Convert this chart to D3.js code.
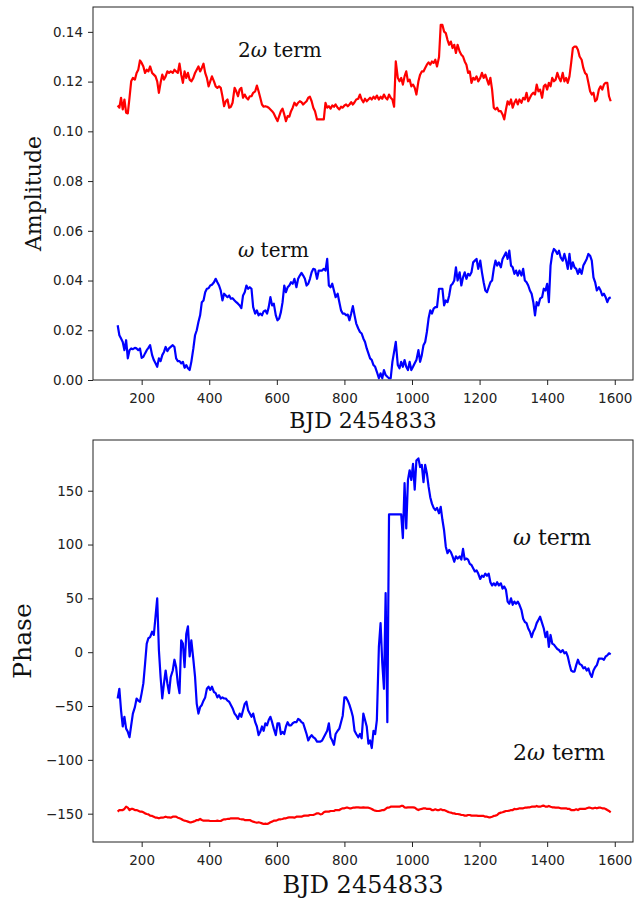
<!DOCTYPE html>
<html>
<head>
<meta charset="utf-8">
<script src="https://cdn.jsdelivr.net/npm/d3@7"></script>
<style>
  html, body { margin: 0; padding: 0; background: #fff; }
  svg { display: block; }
</style>
</head>
<body>
<svg id="chart" width="636" height="898"></svg>
<script>
// ---------------- DATA ----------------
// Observation epochs (BJD - 2454833), shared by all four series
const days = [
  129,134,139,144,149,154,159,164,169,174,
  180,185,190,195,200,205,210,215,220,225,
  231,236,241,246,251,256,261,266,271,276,
  281,286,292,297,302,307,312,317,322,327,
  332,337,342,347,353,358,363,368,373,378,
  383,388,393,398,403,408,414,419,424,429,
  434,439,444,449,454,459,464,469,475,480,
  485,490,495,500,505,510,515,520,525,530,
  536,541,546,551,556,561,566,571,576,581,
  586,591,597,602,607,612,617,622,627,632,
  637,642,647,652,658,663,668,673,678,683,
  688,693,698,703,708,713,719,724,729,734,
  739,744,749,754,759,764,769,774,780,785,
  790,795,800,805,810,815,820,825,830,835,
  841,846,851,856,861,866,871,876,881,886,
  891,896,902,907,912,917,922,927,932,937,
  942,947,952,958,963,968,973,978,983,988,
  993,998,1003,1008,1013,1019,1024,1029,1034,1039,
  1044,1049,1054,1059,1064,1069,1074,1080,1085,1090,
  1095,1100,1105,1110,1115,1120,1125,1130,1135,1141,
  1146,1151,1156,1161,1166,1171,1176,1181,1186,1191,
  1196,1202,1207,1212,1217,1222,1227,1232,1237,1242,
  1247,1252,1257,1263,1268,1273,1278,1283,1288,1293,
  1298,1303,1308,1313,1318,1324,1329,1334,1339,1344,
  1349,1354,1359,1364,1369,1374,1379,1385,1390,1395,
  1400,1405,1410,1415,1420,1425,1430,1435,1440,1446,
  1451,1456,1461,1466,1471,1476,1481,1486,1491,1496,
  1502,1507,1512,1517,1522,1527,1532,1537,1542,1547,
  1553,1558,1563,1568,1573,1578,1583,1588
];

// Amplitude of the 2ω term
const amp2w = [
  0.1104,0.1095,0.1135,0.1088,0.1128,0.1075,0.1072,0.1135,0.1201,0.1215,
  0.1208,0.1235,0.1248,0.1285,0.1275,0.1261,0.1235,0.1248,0.1241,0.1261,
  0.1235,0.1228,0.1221,0.1201,0.1155,0.1195,0.1228,0.1208,0.1221,0.1241,
  0.1235,0.1241,0.1235,0.1248,0.1241,0.1235,0.1272,0.1228,0.1195,0.1241,
  0.1215,0.1235,0.1208,0.1201,0.1215,0.1235,0.1248,0.1261,0.1241,0.1255,
  0.1272,0.1235,0.1215,0.1181,0.1201,0.1221,0.1201,0.1181,0.1175,0.1181,
  0.1175,0.1141,0.1101,0.1121,0.1128,0.1095,0.1099,0.1115,0.1175,0.1161,
  0.1141,0.1168,0.1175,0.1135,0.1148,0.1135,0.1128,0.1141,0.1141,0.1155,
  0.1161,0.1184,0.1161,0.1135,0.1108,0.1099,0.1101,0.1099,0.1095,0.1088,
  0.1081,0.1072,0.1055,0.1041,0.1061,0.1081,0.1091,0.1068,0.1041,0.1061,
  0.1059,0.1081,0.1095,0.1115,0.1104,0.1115,0.1121,0.1117,0.1108,0.1115,
  0.1121,0.1135,0.1139,0.1121,0.1095,0.1081,0.1048,0.1048,0.1048,0.1048,
  0.1048,0.1115,0.1095,0.1101,0.1091,0.1104,0.1099,0.1108,0.1095,0.1088,
  0.1099,0.1095,0.1104,0.1108,0.1101,0.1108,0.1117,0.1108,0.1117,0.1128,
  0.1131,0.1148,0.1128,0.1117,0.1131,0.1121,0.1128,0.1135,0.1128,0.1139,
  0.1131,0.1144,0.1128,0.1139,0.1131,0.1148,0.1135,0.1128,0.1148,0.1135,
  0.1128,0.1099,0.1281,0.1215,0.1201,0.1215,0.1188,0.1221,0.1241,0.1201,
  0.1208,0.1181,0.1188,0.1175,0.1148,0.1201,0.1228,0.1241,0.1241,0.1255,
  0.1268,0.1277,0.1268,0.1281,0.1275,0.1288,0.1261,0.1299,0.1428,0.1428,
  0.1401,0.1395,0.1368,0.1348,0.1361,0.1335,0.1348,0.1315,0.1348,0.1321,
  0.1308,0.1301,0.1281,0.1268,0.1235,0.1241,0.1195,0.1215,0.1208,0.1221,
  0.1201,0.1215,0.1235,0.1215,0.1228,0.1208,0.1188,0.1215,0.1168,0.1095,
  0.1088,0.1095,0.1081,0.1081,0.1068,0.1048,0.1088,0.1121,0.1108,0.1128,
  0.1095,0.1115,0.1128,0.1108,0.1128,0.1115,0.1135,0.1128,0.1155,0.1121,
  0.1135,0.1148,0.1155,0.1148,0.1188,0.1161,0.1168,0.1135,0.1181,0.1188,
  0.1168,0.1195,0.1181,0.1215,0.1201,0.1208,0.1235,0.1215,0.1201,0.1235,
  0.1201,0.1215,0.1195,0.1221,0.1275,0.1335,0.1341,0.1341,0.1328,0.1301,
  0.1288,0.1255,0.1235,0.1228,0.1195,0.1161,0.1148,0.1155,0.1121,0.1128,
  0.1168,0.1181,0.1168,0.1188,0.1195,0.1195,0.1141,0.1121
];

// Amplitude of the ω term
const amp1w = [
  0.0220,0.0180,0.0167,0.0153,0.0120,0.0160,0.0087,0.0120,0.0127,0.0124,
  0.0129,0.0127,0.0120,0.0127,0.0089,0.0093,0.0107,0.0120,0.0129,0.0140,
  0.0100,0.0080,0.0067,0.0053,0.0087,0.0076,0.0100,0.0113,0.0133,0.0116,
  0.0127,0.0133,0.0140,0.0133,0.0087,0.0076,0.0076,0.0067,0.0073,0.0049,
  0.0060,0.0047,0.0040,0.0073,0.0127,0.0180,0.0200,0.0233,0.0260,0.0313,
  0.0320,0.0353,0.0367,0.0369,0.0380,0.0383,0.0393,0.0407,0.0393,0.0380,
  0.0360,0.0320,0.0347,0.0340,0.0333,0.0340,0.0327,0.0329,0.0320,0.0313,
  0.0307,0.0300,0.0289,0.0340,0.0353,0.0380,0.0367,0.0373,0.0367,0.0293,
  0.0267,0.0280,0.0260,0.0267,0.0260,0.0276,0.0280,0.0267,0.0293,0.0333,
  0.0300,0.0307,0.0260,0.0240,0.0247,0.0273,0.0313,0.0380,0.0353,0.0373,
  0.0380,0.0393,0.0387,0.0407,0.0373,0.0407,0.0420,0.0431,0.0420,0.0407,
  0.0380,0.0387,0.0407,0.0433,0.0447,0.0444,0.0407,0.0440,0.0440,0.0440,
  0.0447,0.0440,0.0487,0.0380,0.0373,0.0387,0.0360,0.0333,0.0347,0.0313,
  0.0280,0.0267,0.0267,0.0260,0.0263,0.0240,0.0267,0.0297,0.0260,0.0227,
  0.0207,0.0193,0.0187,0.0167,0.0153,0.0127,0.0107,0.0087,0.0080,0.0060,
  0.0053,0.0033,0.0007,0.0027,0.0007,0.0040,0.0020,0.0013,0.0007,0.0007,
  0.0073,0.0113,0.0153,0.0060,0.0047,0.0073,0.0053,0.0080,0.0053,0.0040,
  0.0073,0.0040,0.0053,0.0067,0.0080,0.0120,0.0073,0.0100,0.0140,0.0153,
  0.0193,0.0247,0.0280,0.0267,0.0287,0.0293,0.0293,0.0367,0.0367,0.0367,
  0.0300,0.0320,0.0313,0.0340,0.0380,0.0387,0.0400,0.0453,0.0400,0.0433,
  0.0380,0.0413,0.0433,0.0407,0.0427,0.0420,0.0433,0.0473,0.0480,0.0487,
  0.0447,0.0480,0.0433,0.0393,0.0360,0.0353,0.0373,0.0393,0.0400,0.0447,
  0.0480,0.0460,0.0473,0.0453,0.0487,0.0500,0.0513,0.0487,0.0520,0.0460,
  0.0453,0.0427,0.0440,0.0420,0.0440,0.0420,0.0447,0.0400,0.0393,0.0380,
  0.0360,0.0347,0.0313,0.0260,0.0313,0.0300,0.0327,0.0333,0.0367,0.0360,
  0.0387,0.0313,0.0460,0.0507,0.0527,0.0520,0.0507,0.0520,0.0493,0.0480,
  0.0507,0.0480,0.0447,0.0507,0.0447,0.0473,0.0453,0.0447,0.0427,0.0447,
  0.0427,0.0460,0.0473,0.0487,0.0507,0.0500,0.0480,0.0413,0.0393,0.0360,
  0.0373,0.0360,0.0340,0.0347,0.0333,0.0313,0.0329,0.0333
];

// Phase of the ω term (degrees)
const phase1w = [
  -43,-34,-54,-69,-60,-71,-74,-79,-68,-57,
  -51,-43,-45,-46,-38,-29,-11,8,13,14,
  19,16,33,50,2,-23,-43,-29,-17,-29,
  -38,-23,-17,-7,-14,-29,-38,11,8,-14,
  17,24,-4,11,-7,-23,-48,-57,-51,-49,
  -45,-42,-34,-32,-35,-32,-37,-38,-42,-40,
  -43,-42,-43,-43,-45,-46,-49,-52,-57,-59,
  -62,-57,-60,-54,-48,-46,-54,-57,-60,-57,
  -65,-69,-77,-74,-69,-73,-66,-68,-63,-60,
  -65,-71,-77,-66,-66,-76,-74,-76,-69,-65,
  -68,-68,-66,-65,-65,-62,-63,-65,-66,-71,
  -76,-82,-79,-77,-79,-80,-83,-83,-83,-82,
  -79,-76,-73,-66,-79,-82,-86,-76,-73,-71,
  -65,-59,-42,-42,-45,-49,-54,-60,-73,-76,
  -79,-76,-80,-57,-63,-69,-85,-82,-89,-73,
  -76,-63,5,27,-10,-34,55,-65,128,128,
  128,128,128,128,128,128,106,157,115,160,
  169,160,175,151,178,180,172,174,158,174,
  166,154,144,138,134,132,134,129,135,123,
  113,98,92,95,93,89,84,89,87,89,
  86,96,86,87,86,82,81,78,75,76,
  73,68,71,70,73,71,73,65,62,64,
  62,65,62,64,59,61,58,47,45,50,
  44,47,45,47,44,39,31,28,27,22,
  19,14,19,22,27,30,33,27,22,14,
  19,5,16,8,7,5,3,2,0,2,
  -1,0,-4,-11,-17,-18,-18,-12,-7,-11,
  -12,-15,-14,-17,-15,-20,-23,-17,-14,-12,
  -6,-6,-6,-7,-4,-3,-1,-2
];

// Phase of the 2ω term (degrees)
const phase2w = [
  -148.1,-146.6,-146.6,-146.6,-145.6,-143.5,-144.4,-146.6,-145.6,-145.6,
  -146.6,-146.6,-147.2,-148.1,-148.1,-148.7,-149.7,-150.3,-150.6,-151.8,
  -152.1,-152.8,-153.7,-153.7,-154.3,-153.7,-153.7,-153.4,-152.8,-153.4,
  -153.4,-153.7,-152.8,-152.8,-152.8,-153.7,-154.3,-154.9,-155.9,-156.5,
  -156.8,-157.4,-158.0,-158.0,-157.4,-156.8,-155.9,-155.9,-154.9,-155.9,
  -156.5,-156.5,-156.5,-156.5,-156.8,-156.8,-156.8,-156.8,-156.5,-156.8,
  -156.8,-155.9,-155.2,-155.2,-154.9,-154.9,-154.3,-154.3,-154.3,-154.3,
  -154.3,-154.9,-155.2,-155.2,-155.9,-155.9,-155.9,-155.9,-156.8,-157.4,
  -158.0,-158.4,-158.0,-158.4,-159.0,-159.6,-159.3,-159.6,-159.0,-158.0,
  -157.4,-156.5,-156.5,-155.9,-155.2,-155.2,-154.9,-154.3,-154.3,-153.7,
  -153.4,-153.4,-153.4,-153.7,-152.8,-152.8,-152.8,-152.8,-152.1,-151.8,
  -151.8,-151.8,-151.2,-151.2,-151.2,-150.6,-149.7,-149.7,-150.6,-150.3,
  -148.7,-148.1,-148.1,-148.1,-147.5,-147.5,-147.5,-146.6,-146.6,-146.6,
  -145.6,-145.0,-145.0,-144.4,-144.4,-145.0,-145.0,-144.4,-144.4,-144.1,
  -144.1,-144.4,-144.4,-144.1,-144.4,-144.4,-144.4,-145.0,-145.6,-146.6,
  -147.2,-147.5,-147.5,-147.2,-146.6,-146.6,-145.6,-144.4,-144.4,-143.5,
  -143.5,-143.5,-143.5,-143.5,-143.5,-142.8,-142.8,-144.1,-144.4,-144.1,
  -144.1,-144.1,-144.1,-144.4,-145.6,-146.6,-145.9,-145.6,-145.0,-145.0,
  -145.6,-145.6,-145.6,-146.6,-146.6,-145.9,-146.6,-146.6,-145.9,-146.6,
  -146.6,-147.2,-148.1,-148.7,-149.0,-149.7,-149.7,-150.3,-150.3,-150.6,
  -151.2,-151.2,-151.8,-151.8,-151.2,-151.2,-151.8,-151.8,-151.8,-151.8,
  -152.1,-152.1,-152.1,-152.1,-152.8,-152.8,-153.4,-153.4,-152.8,-152.1,
  -151.8,-151.2,-149.7,-149.0,-148.7,-148.1,-147.5,-147.5,-147.2,-146.6,
  -146.6,-145.6,-145.9,-145.6,-145.0,-145.0,-145.0,-144.4,-144.4,-144.1,
  -144.1,-143.5,-143.5,-143.5,-142.8,-143.5,-143.5,-142.8,-142.5,-143.5,
  -143.5,-142.8,-143.5,-144.1,-144.1,-144.4,-144.4,-144.4,-145.0,-145.0,
  -145.0,-145.0,-145.6,-145.6,-146.6,-146.6,-146.6,-145.9,-146.6,-145.6,
  -145.6,-145.6,-145.6,-145.0,-144.4,-144.4,-145.0,-145.0,-144.4,-145.0,
  -144.4,-144.4,-145.0,-145.0,-145.6,-146.6,-147.5,-148.7
];

// Tick labels / axis settings
const xTicks = [200, 400, 600, 800, 1000, 1200, 1400, 1600];
const ampTicks = [0.00, 0.02, 0.04, 0.06, 0.08, 0.10, 0.12, 0.14];
const phaseTicks = [-150, -100, -50, 0, 50, 100, 150];
const xDomain = [56, 1654];
const ampDomain = [0, 0.15];
const phaseDomain = [-176.3, 197.1];
const xLabel = "BJD 2454833";
const ampLabel = "Amplitude";
const phaseLabel = "Phase";

// ---------------- DRAWING ----------------
const svg = d3.select("#chart");
svg.append("rect").attr("width", 636).attr("height", 898).attr("fill", "#fff");

const SERIF = "'DejaVu Serif', serif";
const SANS = "'DejaVu Sans', sans-serif";

function panel(opt) {
  const { left, right, top, bottom } = opt.box;
  const x = d3.scaleLinear().domain(xDomain).range([left, right]);
  const y = d3.scaleLinear().domain(opt.yDomain).range([bottom, top]);
  const g = svg.append("g");

  const clipId = "clip" + opt.id;
  svg.append("clipPath").attr("id", clipId)
    .append("rect").attr("x", left).attr("y", top)
    .attr("width", right - left).attr("height", bottom - top);

  const line = d3.line().x(d => x(d[0])).y(d => y(d[1]));
  opt.series.forEach(s => {
    const pts = days.map((d, i) => [d, s.values[i]]).filter(p => p[1] !== undefined);
    g.append("path").attr("d", line(pts))
      .attr("fill", "none").attr("stroke", s.color)
      .attr("stroke-width", 2.2).attr("stroke-linejoin", "round")
      .attr("clip-path", `url(#${clipId})`);
  });

  // axes
  const xAxis = d3.axisBottom(x).tickValues(xTicks).tickSize(5).tickPadding(8)
    .tickSizeOuter(0).tickFormat(d3.format("d"));
  const yAxis = d3.axisLeft(y).tickValues(opt.yTicks).tickSize(5).tickPadding(5)
    .tickSizeOuter(0).tickFormat(opt.yFormat);

  const gx = g.append("g").attr("transform", `translate(0,${bottom})`).call(xAxis);
  const gy = g.append("g").attr("transform", `translate(${left},0)`).call(yAxis);
  [gx, gy].forEach(a => {
    a.select(".domain").remove();
    a.selectAll(".tick line").attr("stroke", "#222").attr("stroke-width", 1);
    a.selectAll(".tick text").attr("fill", "#222")
      .style("font-family", SANS).style("font-size", "13.5px");
  });

  // frame
  g.append("rect").attr("x", left).attr("y", top)
    .attr("width", right - left).attr("height", bottom - top)
    .attr("fill", "none").attr("stroke", "#222").attr("stroke-width", 1);

  // labels
  g.append("text").attr("x", (left + right) / 2).attr("y", opt.xLabelY)
    .attr("text-anchor", "middle").attr("fill", "#111")
    .style("font-family", SERIF).style("font-size", opt.xLabelSize + "px")
    .text(xLabel);
  g.append("text")
    .attr("transform", `translate(${opt.yLabelX},${(top + bottom) / 2}) rotate(-90)`)
    .attr("text-anchor", "middle").attr("fill", "#111")
    .style("font-family", SERIF).style("font-size", opt.yLabelSize + "px")
    .text(opt.yLabel);

  // annotations
  opt.notes.forEach(n => {
    const t = g.append("text").attr("x", x(n.at[0])).attr("y", y(n.at[1]))
      .attr("fill", "#111").style("font-family", SERIF)
      .style("font-size", opt.noteSize + "px");
    if (n.prefix) t.append("tspan").text(n.prefix);
    t.append("tspan").style("font-style", "italic").text("\u03C9");
    t.append("tspan").text(" term");
  });
}

panel({
  id: "amp",
  box: { left: 93, right: 633, top: 7, bottom: 380 },
  yDomain: ampDomain,
  yTicks: ampTicks,
  yFormat: d3.format(".2f"),
  series: [
    { values: amp2w, color: "#ff0000" },
    { values: amp1w, color: "#0000ff" }
  ],
  xLabelY: 428, xLabelSize: 22,
  yLabel: ampLabel, yLabelX: 41, yLabelSize: 22,
  noteSize: 20,
  notes: [
    { prefix: "2", at: [485, 0.130] },
    { prefix: "", at: [485, 0.0495] }
  ]
});

panel({
  id: "phase",
  box: { left: 93, right: 633, top: 440, bottom: 842 },
  yDomain: phaseDomain,
  yTicks: phaseTicks,
  yFormat: d => d3.format("d")(d).replace("-", "\u2212"),
  series: [
    { values: phase1w, color: "#0000ff" },
    { values: phase2w, color: "#ff0000" }
  ],
  xLabelY: 893, xLabelSize: 24,
  yLabel: phaseLabel, yLabelX: 31, yLabelSize: 25,
  noteSize: 22,
  notes: [
    { prefix: "", at: [1299, 100] },
    { prefix: "2", at: [1299, -100] }
  ]
});
</script>
</body>
</html>
